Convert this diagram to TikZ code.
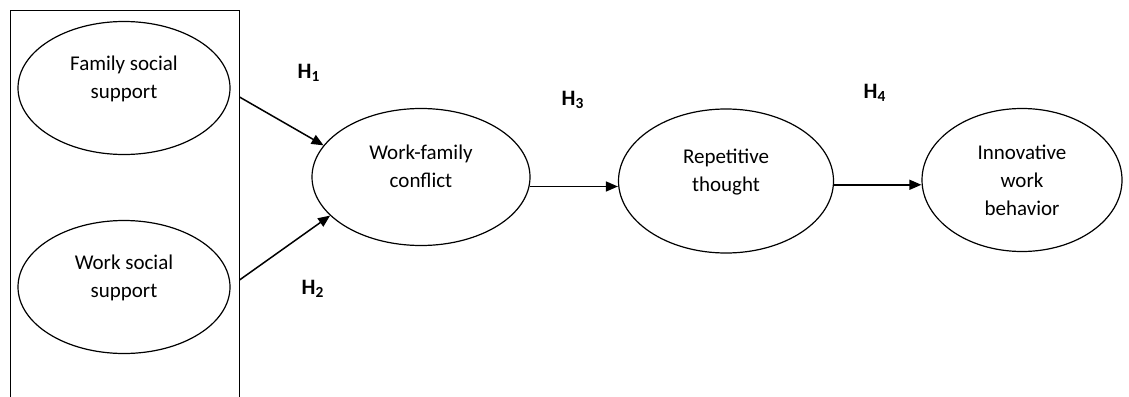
\documentclass[tikz,border=0pt]{standalone}
\usepackage{fontspec}
\setmainfont{Carlito}
\usetikzlibrary{arrows.meta,calc,positioning,shapes.geometric}
\tikzset{pin/.style={-{Triangle[length=6pt,width=5pt]}, line width=0.75pt},
  var/.style={draw, ellipse, line width=0.6pt, inner sep=0pt, align=center, font=\fontsize{10.5}{14}\selectfont},
  hyp/.style={font=\fontsize{11}{13}\selectfont\bfseries}}

\begin{document}
\begin{tikzpicture}[x=0.5pt, y=-0.5pt]
  \useasboundingbox (0,0) rectangle (1129,396);
  \clip (0,0) rectangle (1129,396);
  % frame round the two supports, runs off the bottom
  \node[draw, line width=0.5pt, minimum width=114.5pt, minimum height=210pt, inner sep=0pt] (grp) at (124.5,220) {};
  \node[var, minimum width=106pt, minimum height=66.5pt] (fss) at (124,88)  {Family social\\support\\[-3pt]\mbox{}};
  \node[var, minimum width=106pt, minimum height=66.5pt] (wss) at (124,287) {Work social\\support\\[-3pt]\mbox{}};
  \node[var, minimum width=109pt, minimum height=68.5pt] (wfc) at (421,177) {Work-family\\conflict\\[-3pt]\mbox{}};
  \node[var, minimum width=107.5pt, minimum height=72pt] (rep) at (726,181) {Repetitive\\thought\\[-3pt]\mbox{}};
  \node[var, minimum width=100pt, minimum height=71.5pt] (iwb) at (1022,180) {Innovative\\work\\behavior};
  % hypotheses
  \draw[pin] ($(grp.east |- fss)+(0,9)$) -- (wfc.162);
  \draw[pin] ($(grp.east |- wss)+(0,-7)$) -- (wfc.203);
  \draw[pin] (wfc.-5) -- (wfc.-5 -| rep.west);
  \draw[pin] (rep.-2) -- (rep.-2 -| iwb.west);
  \node[hyp] (h1) at (309,73)  {H\textsubscript{1}};
  \node[hyp] (h2) at (313,289) {H\textsubscript{2}};
  \node[hyp] (h3) at (573,100) {H\textsubscript{3}};
  \node[hyp] (h4) at (875,93)  {H\textsubscript{4}};
\end{tikzpicture}
\end{document}
